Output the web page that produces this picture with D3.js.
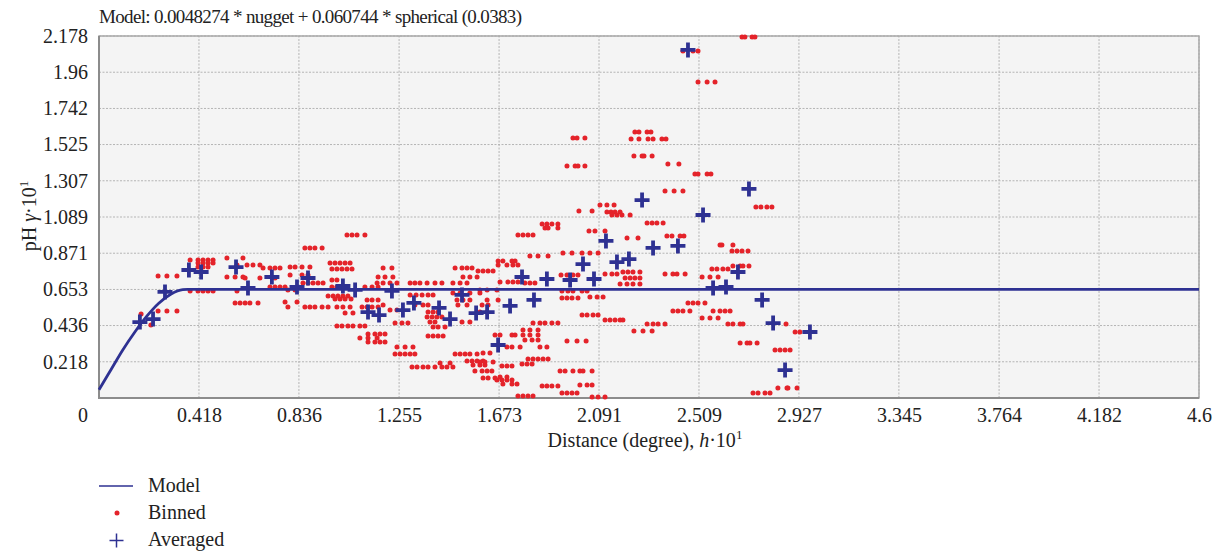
<!DOCTYPE html>
<html>
<head>
<meta charset="utf-8">
<script src="https://cdn.jsdelivr.net/npm/d3@7"></script>
<style>
  body { margin: 0; background: #fff; }
  svg text { font-family: "Liberation Serif", "Times New Roman", "DejaVu Serif"; fill: #222; }
</style>
</head>
<body>
<div id="vis"></div>
<script>
const FRAME_WIDTH = 1220;
const FRAME_HEIGHT = 552;
const MARGINS = {left: 99, right: 21, top: 36, bottom: 154};

const TITLE = "Model: 0.0048274 * nugget + 0.060744 * spherical (0.0383)";
const xTickLabels = ["0.418", "0.836", "1.255", "1.673", "2.091", "2.509", "2.927", "3.345", "3.764", "4.182", "4.6"];
const yTickLabels = ["0.218", "0.436", "0.653", "0.871", "1.089", "1.307", "1.525", "1.742", "1.96", "2.178"];

// model curve
const modelH = [0, 0.05, 0.1, 0.15, 0.2, 0.25, 0.3, 0.35, 0.37, 4.6];
const modelG = [0.05, 0.17, 0.29, 0.397, 0.492, 0.57, 0.624, 0.652, 0.653, 0.653];

// averaged points
const avgH = [0.171, 0.226, 0.276, 0.376, 0.427, 0.573, 0.623, 0.723, 0.828, 0.874, 1.020, 1.071, 1.125, 1.171, 1.225,
  1.271, 1.317, 1.422, 1.468, 1.518, 1.577, 1.623, 1.669, 1.719, 1.769, 1.819, 1.873, 1.970, 2.024, 2.070, 2.120,
  2.166, 2.216, 2.271, 2.317, 2.421, 2.463, 2.526, 2.568, 2.622, 2.672, 2.718, 2.773, 2.819, 2.869, 2.973];
const avgG = [0.457, 0.475, 0.638, 0.770, 0.758, 0.788, 0.662, 0.728, 0.668, 0.722, 0.674, 0.650, 0.517, 0.499, 0.644,
  0.529, 0.572, 0.542, 0.475, 0.620, 0.511, 0.517, 0.319, 0.554, 0.728, 0.590, 0.716, 0.710, 0.806, 0.716, 0.945,
  0.818, 0.836, 1.191, 0.903, 0.915, 2.094, 1.101, 0.662, 0.668, 0.758, 1.258, 0.590, 0.451, 0.168, 0.397];

// binned points, grouped by row: [gamma, [h, h, ...]]
const binnedRows = [
  [0.734, [0.247, 0.284, 0.326]],
  [0.523, [0.247, 0.284, 0.326]],
  [0.505, [0.176]],
  [0.439, [0.217]],
  [0.830, [0.381, 0.414, 0.435, 0.456, 0.477]],
  [0.812, [0.414, 0.435, 0.456, 0.477]],
  [0.788, [0.414, 0.435, 0.456]],
  [0.644, [0.381, 0.414, 0.435, 0.456, 0.477]],
  [0.842, [0.535, 0.602]],
  [0.800, [0.577, 0.619, 0.644, 0.673]],
  [0.728, [0.535, 0.569, 0.602]],
  [0.644, [0.577]],
  [0.572, [0.569, 0.590, 0.611, 0.631, 0.665]],
  [0.782, [0.686, 0.715, 0.736, 0.757]],
  [0.722, [0.611, 0.673, 0.736]],
  [0.668, [0.715, 0.736, 0.757, 0.778]],
  [0.788, [0.799, 0.820, 0.849, 0.882]],
  [0.740, [0.799, 0.849, 0.874]],
  [0.692, [0.853, 0.874, 0.895, 0.916, 0.937]],
  [0.650, [0.790, 0.820]],
  [0.578, [0.778, 0.828]],
  [0.548, [0.790, 0.861, 0.882, 0.903, 0.933]],
  [0.903, [0.861, 0.882, 0.903, 0.933]],
  [0.981, [1.037, 1.058, 1.079, 1.112]],
  [0.812, [0.966, 0.987, 1.008, 1.029, 1.050]],
  [0.776, [0.974, 0.995, 1.016, 1.037, 1.058]],
  [0.710, [0.974, 0.995]],
  [0.668, [0.974, 0.995, 1.016, 1.037]],
  [0.614, [0.958, 0.979, 0.999, 1.020, 1.041]],
  [0.596, [0.987, 1.008, 1.029, 1.054]],
  [0.548, [0.958, 0.995, 1.020, 1.050]],
  [0.511, [1.029, 1.062]],
  [0.433, [0.995, 1.016, 1.041, 1.062, 1.091, 1.112]],
  [0.385, [1.125, 1.154, 1.175, 1.196]],
  [0.361, [1.091, 1.125, 1.163]],
  [0.337, [1.125, 1.154, 1.175, 1.196]],
  [0.668, [1.112, 1.142, 1.167]],
  [0.590, [1.121, 1.142, 1.167]],
  [0.548, [1.100, 1.121, 1.142, 1.167]],
  [0.782, [1.188, 1.225]],
  [0.728, [1.167, 1.196, 1.229]],
  [0.692, [1.163, 1.188, 1.217, 1.246]],
  [0.560, [1.188]],
  [0.529, [1.217, 1.246]],
  [0.451, [1.238, 1.267, 1.292]],
  [0.307, [1.246, 1.280, 1.313]],
  [0.265, [1.238, 1.259, 1.280, 1.301, 1.321]],
  [0.187, [1.309, 1.330, 1.355, 1.376, 1.405, 1.434, 1.455, 1.480]],
  [0.211, [1.426, 1.468]],
  [0.692, [1.301, 1.321, 1.342, 1.372, 1.405, 1.434]],
  [0.620, [1.301, 1.326, 1.351, 1.376, 1.397]],
  [0.560, [1.321, 1.355, 1.376]],
  [0.517, [1.376, 1.397, 1.418]],
  [0.487, [1.372, 1.393, 1.413, 1.434]],
  [0.457, [1.384, 1.405]],
  [0.427, [1.397, 1.418, 1.447]],
  [0.373, [1.376, 1.397, 1.418, 1.439]],
  [0.782, [1.489, 1.518, 1.539, 1.560]],
  [0.764, [1.585, 1.606, 1.627, 1.648]],
  [0.728, [1.522, 1.551, 1.581]],
  [0.692, [1.480, 1.510, 1.539]],
  [0.632, [1.480, 1.510, 1.551, 1.593]],
  [0.590, [1.497, 1.522, 1.551]],
  [0.560, [1.501, 1.539, 1.602, 1.627]],
  [0.517, [1.593, 1.623]],
  [0.457, [1.518, 1.551]],
  [0.265, [1.489, 1.510, 1.531, 1.551, 1.581]],
  [0.223, [1.539, 1.560, 1.581, 1.606]],
  [0.199, [1.564, 1.593, 1.614]],
  [0.162, [1.572, 1.602, 1.623, 1.643]],
  [0.120, [1.606, 1.627, 1.656]],
  [0.271, [1.606, 1.635]],
  [0.217, [1.593, 1.614, 1.648]],
  [0.108, [1.664, 1.685, 1.706, 1.727]],
  [1.564, [1.982, 1.999, 2.032]],
  [1.396, [1.957, 1.991, 2.003, 2.032]],
  [1.600, [2.241, 2.258, 2.292, 2.308]],
  [1.558, [2.225, 2.258, 2.296, 2.317, 2.354, 2.371]],
  [1.456, [2.237, 2.271, 2.279, 2.313]],
  [1.408, [2.379, 2.425]],
  [1.348, [2.492, 2.505, 2.543, 2.559]],
  [1.245, [2.367, 2.405, 2.442]],
  [1.149, [2.747, 2.768, 2.793, 2.814]],
  [1.125, [2.007, 2.062]],
  [1.161, [2.095, 2.124, 2.154]],
  [1.119, [2.124, 2.141, 2.158, 2.179]],
  [1.101, [2.145, 2.166, 2.187, 2.221]],
  [1.053, [2.292, 2.313, 2.333, 2.359]],
  [1.047, [1.853, 1.873, 1.894, 1.919]],
  [1.023, [1.865, 1.878, 1.919]],
  [1.005, [2.049, 2.074, 2.116]],
  [0.981, [1.752, 1.773, 1.794, 1.815]],
  [0.975, [2.375, 2.396, 2.430, 2.446]],
  [0.963, [2.208, 2.254]],
  [0.921, [2.597, 2.605, 2.651]],
  [0.884, [2.647, 2.668, 2.689, 2.714]],
  [0.872, [1.940, 1.978, 2.020, 2.053, 2.087]],
  [0.854, [1.802, 1.836, 1.878]],
  [0.824, [1.669, 1.689, 1.727, 1.740]],
  [0.800, [1.669, 1.706, 1.731, 1.752]],
  [0.794, [2.651, 2.681, 2.693, 2.718]],
  [0.776, [2.563, 2.584, 2.609, 2.630]],
  [0.746, [2.116, 2.145, 2.166]],
  [0.758, [2.191, 2.212, 2.233, 2.262]],
  [0.740, [1.932, 1.957, 1.982, 2.003]],
  [0.746, [2.367, 2.400, 2.417, 2.451]],
  [0.728, [2.522, 2.555, 2.589]],
  [0.722, [2.200, 2.221, 2.241, 2.262]],
  [0.698, [1.677, 1.710, 1.731, 1.752]],
  [0.686, [2.179, 2.208, 2.233, 2.262]],
  [0.692, [1.781, 1.802, 1.823]],
  [0.650, [1.593, 1.623, 1.664]],
  [0.644, [1.936, 1.961, 1.982]],
  [0.644, [2.020, 2.041]],
  [0.608, [2.053, 2.083, 2.108]],
  [0.602, [1.936, 1.957, 1.978, 2.003]],
  [0.590, [1.623, 1.669]],
  [0.572, [2.463, 2.484, 2.505, 2.534]],
  [0.523, [2.400, 2.421, 2.442, 2.471]],
  [0.523, [2.568, 2.597, 2.618, 2.639]],
  [0.499, [2.020, 2.041, 2.066, 2.087]],
  [0.469, [2.116, 2.137, 2.158, 2.179, 2.191]],
  [0.481, [2.522, 2.555, 2.589]],
  [0.451, [1.815, 1.844, 1.865, 1.894, 1.919]],
  [0.445, [2.630, 2.651, 2.681, 2.693]],
  [0.445, [2.292, 2.317, 2.338, 2.367]],
  [0.403, [2.237, 2.275, 2.313]],
  [0.409, [1.773, 1.802, 1.836]],
  [0.379, [1.773, 1.802, 1.836]],
  [0.349, [1.781, 1.811, 1.836]],
  [0.379, [1.656, 1.677, 1.727, 1.740]],
  [0.343, [1.957, 1.999, 2.037]],
  [0.331, [2.681, 2.710, 2.722, 2.752]],
  [0.307, [1.706, 1.727, 1.761]],
  [0.307, [1.844, 1.873]],
  [0.289, [2.827, 2.848, 2.869, 2.890]],
  [0.235, [1.794, 1.815, 1.836, 1.857, 1.878]],
  [0.205, [1.769, 1.790, 1.811]],
  [0.193, [1.685, 1.706, 1.727]],
  [0.162, [1.928, 1.949, 1.982, 2.011, 2.024, 2.062]],
  [0.126, [1.677, 1.706]],
  [0.084, [1.689, 1.727, 1.748]],
  [0.072, [1.853, 1.873, 1.894, 1.919]],
  [0.078, [2.011, 2.041, 2.062]],
  [0.030, [1.936, 1.957, 1.978, 1.999]],
  [0.012, [1.752, 1.773, 1.794, 1.815]],
  [0.006, [2.062, 2.087, 2.116]],
  [0.030, [2.735, 2.756, 2.785, 2.806]],
  [0.060, [2.839, 2.877, 2.881, 2.919]],
  [2.172, [2.689, 2.701, 2.731, 2.743]],
  [2.088, [2.442, 2.484, 2.505]],
  [1.901, [2.505, 2.543, 2.576]],
  [0.445, [2.873]],
  [0.397, [2.911, 2.931]]
];

const RED = "#e4232a";
const BLUE = "#2e3192";
const FONT_SIZE = "20px";

const svg = d3.select("#vis")
  .append("svg")
  .attr("width", FRAME_WIDTH)
  .attr("height", FRAME_HEIGHT);

const x = d3.scaleLinear()
  .domain([0, 4.6])
  .range([MARGINS.left, FRAME_WIDTH - MARGINS.right]);

const y = d3.scaleLinear()
  .domain([0, 2.178])
  .range([FRAME_HEIGHT - MARGINS.bottom, MARGINS.top]);

const xTicks = xTickLabels.map(Number);
const yTicks = yTickLabels.map(Number);

// plot background
svg.append("rect")
  .attr("x", x(0))
  .attr("y", y(2.178))
  .attr("width", x(4.6) - x(0))
  .attr("height", y(0) - y(2.178))
  .attr("fill", "#f4f4f4");

// grid
svg.append("g")
  .selectAll("line")
  .data(xTicks)
  .enter().append("line")
  .attr("x1", d => x(d)).attr("x2", d => x(d))
  .attr("y1", y(0)).attr("y2", y(2.178))
  .attr("stroke", "#b4b4b4")
  .attr("stroke-width", 1)
  .attr("stroke-dasharray", "2,1.5");

svg.append("g")
  .selectAll("line")
  .data(yTicks)
  .enter().append("line")
  .attr("x1", x(0)).attr("x2", x(4.6))
  .attr("y1", d => y(d)).attr("y2", d => y(d))
  .attr("stroke", "#b4b4b4")
  .attr("stroke-width", 1)
  .attr("stroke-dasharray", "2,1.5");

// border
svg.append("rect")
  .attr("x", x(0))
  .attr("y", y(2.178))
  .attr("width", x(4.6) - x(0))
  .attr("height", y(0) - y(2.178))
  .attr("fill", "none")
  .attr("stroke", "#a8a8a8")
  .attr("stroke-width", 1.5);

svg.append("path")
  .attr("d", `M${x(0)},${y(2.178)}V${y(0)}H${x(4.6)}`)
  .attr("fill", "none")
  .attr("stroke", "#8c8c8c")
  .attr("stroke-width", 2);

// axes (labels only)
const xAxis = d3.axisBottom(x)
  .tickValues(xTicks)
  .tickFormat((d, i) => xTickLabels[i])
  .tickSize(0)
  .tickPadding(10);

const gx = svg.append("g")
  .attr("transform", `translate(0, ${y(0)})`)
  .call(xAxis);
gx.select(".domain").remove();
gx.selectAll("text").attr("font-size", FONT_SIZE).attr("font-family", null).attr("fill", "#222");

svg.append("text")
  .attr("x", x(0) - 16)
  .attr("y", y(0) + 24)
  .attr("text-anchor", "middle")
  .attr("font-size", FONT_SIZE)
  .text("0");

const yAxis = d3.axisLeft(y)
  .tickValues(yTicks)
  .tickFormat((d, i) => yTickLabels[i])
  .tickSize(0)
  .tickPadding(11);

const gy = svg.append("g")
  .attr("transform", `translate(${x(0)}, 0)`)
  .call(yAxis);
gy.select(".domain").remove();
gy.selectAll("text").attr("font-size", FONT_SIZE).attr("font-family", null).attr("fill", "#222");

// title
svg.append("text")
  .attr("x", x(0))
  .attr("y", 23)
  .attr("font-size", "19px")
  .attr("textLength", 423)
  .attr("lengthAdjust", "spacing")
  .text(TITLE);

// axis titles
const xt = svg.append("text")
  .attr("x", 645)
  .attr("y", 447)
  .attr("text-anchor", "middle")
  .attr("font-size", FONT_SIZE);
xt.append("tspan").text("Distance (degree), ");
xt.append("tspan").attr("font-style", "italic").text("h");
xt.append("tspan").text("·10");
xt.append("tspan").attr("font-size", "13px").attr("dy", -8).text("1");

const yt = svg.append("text")
  .attr("transform", `translate(36, 216) rotate(-90)`)
  .attr("text-anchor", "middle")
  .attr("font-size", FONT_SIZE);
yt.append("tspan").text("pH ");
yt.append("tspan").attr("font-style", "italic").text("γ");
yt.append("tspan").text("·10");
yt.append("tspan").attr("font-size", "13px").attr("dy", -8).text("1");

// binned dots
const binned = [];
binnedRows.forEach(r => r[1].forEach(h => binned.push({h: h, g: r[0]})));

svg.append("g")
  .selectAll("circle")
  .data(binned)
  .enter().append("circle")
  .attr("cx", d => x(d.h))
  .attr("cy", d => y(d.g))
  .attr("r", 2.5)
  .attr("fill", RED);

// model line
const model = modelH.map((h, i) => ({h: h, g: modelG[i]}));
svg.append("path")
  .datum(model)
  .attr("fill", "none")
  .attr("stroke", BLUE)
  .attr("stroke-width", 2.8)
  .attr("d", d3.line().x(d => x(d.h)).y(d => y(d.g)).curve(d3.curveMonotoneX));

// averaged crosses
const avg = avgH.map((h, i) => ({h: h, g: avgG[i]}));
svg.append("g")
  .selectAll("path")
  .data(avg)
  .enter().append("path")
  .attr("d", d => `M${x(d.h) - 7.5},${y(d.g)}h15M${x(d.h)},${y(d.g) - 7.5}v15`)
  .attr("stroke", BLUE)
  .attr("stroke-width", 3.8)
  .attr("fill", "none");

// legend
const legend = svg.append("g");
legend.append("line")
  .attr("x1", 99).attr("x2", 133)
  .attr("y1", 486).attr("y2", 486)
  .attr("stroke", BLUE)
  .attr("stroke-width", 1.5);
legend.append("circle")
  .attr("cx", 117).attr("cy", 513)
  .attr("r", 2.5)
  .attr("fill", RED);
legend.append("path")
  .attr("d", "M109.5,540.5h14M116.5,533.5v14")
  .attr("stroke", BLUE)
  .attr("stroke-width", 1.5);

["Model", "Binned", "Averaged"].forEach((t, i) => {
  legend.append("text")
    .attr("x", 148)
    .attr("y", 492 + i * 27)
    .attr("font-size", FONT_SIZE)
    .text(t);
});
</script>
</body>
</html>
